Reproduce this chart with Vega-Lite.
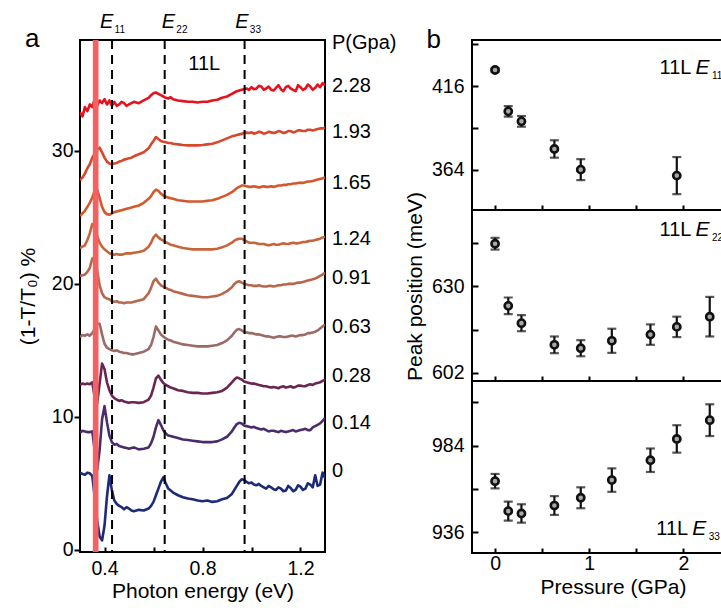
{
  "$schema": "https://vega.github.io/schema/vega-lite/v6.json",
  "autosize": {"type": "pad"},
  "padding": {"left": 16, "top": 10, "right": -32, "bottom": 8},
  "background": "white",
  "bounds": "flush",
  "spacing": 147,
  "config": {
    "font": "Liberation Sans",
    "view": {"stroke": "black", "strokeWidth": 2},
    "axis": {"labelFont": "Liberation Sans", "titleFont": "Liberation Sans", "labelFontSize": 19.5, "titleFontSize": 21, "titleFontWeight": "normal", "labelColor": "black", "titleColor": "black", "tickColor": "black", "tickWidth": 2, "grid": false, "domain": false},
    "text": {"font": "Liberation Sans", "color": "black"}
  },
  "datasets": {
    "spectra": [
      {"e":0.30,"p000":5.8,"p014":8.8,"p028":12.4,"p063":16.0,"p091":20.6,"p124":22.7,"p165":25.1,"p193":27.8,"p228":32.9},
      {"e":0.31,"p000":5.7,"p014":8.95,"p028":12.5,"p063":16.15,"p091":20.65,"p124":22.8,"p165":25.3,"p193":28.0,"p228":32.6},
      {"e":0.32,"p000":5.65,"p014":8.9,"p028":12.45,"p063":16.1,"p091":20.7,"p124":22.9,"p165":25.5,"p193":28.3,"p228":33.3},
      {"e":0.33,"p000":5.8,"p014":8.85,"p028":12.5,"p063":16.2,"p091":20.9,"p124":23.3,"p165":25.8,"p193":28.7,"p228":33.0},
      {"e":0.34,"p000":5.75,"p014":8.85,"p028":12.45,"p063":16.1,"p091":21.2,"p124":23.8,"p165":26.1,"p193":29.0,"p228":33.5},
      {"e":0.35,"p000":5.55,"p014":8.9,"p028":12.6,"p063":16.3,"p091":21.9,"p124":24.5,"p165":26.5,"p193":29.5,"p228":33.3},
      {"e":0.36,"p000":4.0,"p014":7.5,"p028":11.5,"p063":16.6,"p091":22.0,"p124":24.2,"p165":27.0,"p193":29.8,"p228":33.9},
      {"e":0.37,"p000":2.2,"p014":6.0,"p028":11.0,"p063":17.0,"p091":21.0,"p124":23.6,"p165":27.1,"p193":30.1,"p228":33.4},
      {"e":0.38,"p000":1.0,"p014":7.5,"p028":12.5,"p063":17.0,"p091":19.9,"p124":23.1,"p165":26.5,"p193":30.25,"p228":33.8},
      {"e":0.39,"p000":0.7,"p014":9.8,"p028":14.0,"p063":16.2,"p091":19.3,"p124":22.8,"p165":25.8,"p193":29.9,"p228":33.6},
      {"e":0.40,"p000":1.8,"p014":10.8,"p028":13.6,"p063":15.5,"p091":19.0,"p124":22.6,"p165":25.4,"p193":29.5,"p228":33.9},
      {"e":0.41,"p000":4.0,"p014":9.6,"p028":12.6,"p063":15.2,"p091":18.9,"p124":22.45,"p165":25.25,"p193":29.2,"p228":33.5},
      {"e":0.42,"p000":5.6,"p014":8.6,"p028":12.0,"p063":15.1,"p091":18.85,"p124":22.3,"p165":25.2,"p193":29.05,"p228":33.8},
      {"e":0.43,"p000":4.5,"p014":8.1,"p028":11.6,"p063":15.0,"p091":18.7,"p124":22.25,"p165":25.3,"p193":29.0,"p228":33.4},
      {"e":0.44,"p000":3.7,"p014":7.9,"p028":11.4,"p063":14.95,"p091":18.65,"p124":22.2,"p165":25.4,"p193":29.05,"p228":33.7},
      {"e":0.45,"p000":3.45,"p014":7.95,"p028":11.3,"p063":15.0,"p091":18.7,"p124":22.25,"p165":25.45,"p193":29.1,"p228":33.4},
      {"e":0.46,"p000":3.3,"p014":7.8,"p028":11.2,"p063":14.9,"p091":18.6,"p124":22.2,"p165":25.5,"p193":29.2,"p228":33.5},
      {"e":0.47,"p000":3.2,"p014":7.75,"p028":11.25,"p063":14.85,"p091":18.6,"p124":22.2,"p165":25.55,"p193":29.25,"p228":33.7},
      {"e":0.48,"p000":3.05,"p014":7.7,"p028":11.15,"p063":14.8,"p091":18.55,"p124":22.25,"p165":25.6,"p193":29.35,"p228":33.6},
      {"e":0.49,"p000":3.2,"p014":7.65,"p028":11.1,"p063":14.8,"p091":18.6,"p124":22.3,"p165":25.65,"p193":29.4,"p228":33.4},
      {"e":0.50,"p000":3.1,"p014":7.6,"p028":11.05,"p063":14.75,"p091":18.6,"p124":22.3,"p165":25.7,"p193":29.45,"p228":33.5},
      {"e":0.51,"p000":2.95,"p014":7.65,"p028":11.1,"p063":14.7,"p091":18.6,"p124":22.3,"p165":25.75,"p193":29.5,"p228":33.6},
      {"e":0.52,"p000":2.9,"p014":7.7,"p028":11.1,"p063":14.7,"p091":18.65,"p124":22.35,"p165":25.8,"p193":29.6,"p228":33.7},
      {"e":0.54,"p000":3.0,"p014":7.55,"p028":11.05,"p063":14.8,"p091":18.75,"p124":22.4,"p165":25.9,"p193":29.75,"p228":33.6},
      {"e":0.56,"p000":2.95,"p014":7.6,"p028":11.1,"p063":14.9,"p091":18.85,"p124":22.5,"p165":26.1,"p193":29.9,"p228":33.8},
      {"e":0.58,"p000":3.1,"p014":7.7,"p028":11.3,"p063":15.1,"p091":19.3,"p124":22.8,"p165":26.4,"p193":30.2,"p228":34.0},
      {"e":0.59,"p000":3.3,"p014":8.0,"p028":11.6,"p063":15.4,"p091":19.7,"p124":23.1,"p165":26.6,"p193":30.5,"p228":34.2},
      {"e":0.60,"p000":3.6,"p014":8.5,"p028":12.2,"p063":16.0,"p091":20.2,"p124":23.5,"p165":26.9,"p193":30.75,"p228":34.35},
      {"e":0.61,"p000":4.1,"p014":9.2,"p028":12.9,"p063":16.8,"p091":20.4,"p124":23.7,"p165":27.1,"p193":31.05,"p228":34.4},
      {"e":0.62,"p000":4.6,"p014":9.75,"p028":13.1,"p063":16.5,"p091":20.1,"p124":23.5,"p165":27.0,"p193":30.9,"p228":34.3},
      {"e":0.63,"p000":5.1,"p014":9.4,"p028":12.8,"p063":16.2,"p091":19.9,"p124":23.35,"p165":26.8,"p193":30.75,"p228":34.2},
      {"e":0.64,"p000":5.45,"p014":9.0,"p028":12.55,"p063":16.05,"p091":19.8,"p124":23.25,"p165":26.65,"p193":30.7,"p228":34.1},
      {"e":0.65,"p000":5.0,"p014":8.75,"p028":12.4,"p063":15.9,"p091":19.7,"p124":23.15,"p165":26.55,"p193":30.65,"p228":34.0},
      {"e":0.66,"p000":4.6,"p014":8.6,"p028":12.3,"p063":15.8,"p091":19.6,"p124":23.05,"p165":26.5,"p193":30.6,"p228":33.95},
      {"e":0.67,"p000":4.45,"p014":8.55,"p028":12.2,"p063":15.75,"p091":19.55,"p124":22.95,"p165":26.45,"p193":30.6,"p228":34.05},
      {"e":0.68,"p000":4.3,"p014":8.5,"p028":12.15,"p063":15.65,"p091":19.45,"p124":22.9,"p165":26.4,"p193":30.55,"p228":33.9},
      {"e":0.70,"p000":4.1,"p014":8.4,"p028":12.0,"p063":15.55,"p091":19.35,"p124":22.8,"p165":26.3,"p193":30.5,"p228":33.8},
      {"e":0.72,"p000":3.95,"p014":8.3,"p028":11.95,"p063":15.45,"p091":19.25,"p124":22.7,"p165":26.25,"p193":30.45,"p228":33.75},
      {"e":0.74,"p000":3.85,"p014":8.25,"p028":11.85,"p063":15.4,"p091":19.15,"p124":22.65,"p165":26.2,"p193":30.42,"p228":33.7},
      {"e":0.76,"p000":3.8,"p014":8.2,"p028":11.8,"p063":15.35,"p091":19.1,"p124":22.6,"p165":26.2,"p193":30.42,"p228":33.7},
      {"e":0.78,"p000":3.7,"p014":8.15,"p028":11.8,"p063":15.3,"p091":19.05,"p124":22.6,"p165":26.2,"p193":30.42,"p228":33.65},
      {"e":0.80,"p000":3.65,"p014":8.1,"p028":11.75,"p063":15.3,"p091":19.0,"p124":22.6,"p165":26.2,"p193":30.45,"p228":33.7},
      {"e":0.82,"p000":3.7,"p014":8.1,"p028":11.75,"p063":15.3,"p091":19.0,"p124":22.6,"p165":26.25,"p193":30.5,"p228":33.7},
      {"e":0.84,"p000":3.6,"p014":8.1,"p028":11.8,"p063":15.35,"p091":19.05,"p124":22.6,"p165":26.3,"p193":30.55,"p228":33.8},
      {"e":0.86,"p000":3.65,"p014":8.15,"p028":11.85,"p063":15.4,"p091":19.1,"p124":22.65,"p165":26.4,"p193":30.65,"p228":33.85},
      {"e":0.88,"p000":3.8,"p014":8.3,"p028":11.95,"p063":15.55,"p091":19.25,"p124":22.75,"p165":26.55,"p193":30.8,"p228":34.0},
      {"e":0.90,"p000":3.9,"p014":8.5,"p028":12.2,"p063":15.75,"p091":19.45,"p124":22.9,"p165":26.7,"p193":30.95,"p228":34.1},
      {"e":0.92,"p000":4.2,"p014":8.9,"p028":12.6,"p063":16.1,"p091":19.75,"p124":23.1,"p165":26.9,"p193":31.1,"p228":34.3},
      {"e":0.93,"p000":4.5,"p014":9.2,"p028":12.8,"p063":16.35,"p091":20.0,"p124":23.25,"p165":27.05,"p193":31.15,"p228":34.4},
      {"e":0.94,"p000":4.8,"p014":9.45,"p028":12.95,"p063":16.55,"p091":20.15,"p124":23.35,"p165":27.2,"p193":31.2,"p228":34.5},
      {"e":0.95,"p000":5.1,"p014":9.55,"p028":12.9,"p063":16.6,"p091":20.2,"p124":23.4,"p165":27.3,"p193":31.25,"p228":34.55},
      {"e":0.96,"p000":5.3,"p014":9.5,"p028":12.8,"p063":16.5,"p091":20.1,"p124":23.4,"p165":27.4,"p193":31.3,"p228":34.6},
      {"e":0.97,"p000":5.25,"p014":9.35,"p028":12.65,"p063":16.4,"p091":20.0,"p124":23.3,"p165":27.4,"p193":31.35,"p228":34.65},
      {"e":0.98,"p000":5.1,"p014":9.3,"p028":12.6,"p063":16.35,"p091":19.95,"p124":23.2,"p165":27.35,"p193":31.38,"p228":34.7},
      {"e":0.99,"p000":5.0,"p014":9.25,"p028":12.55,"p063":16.3,"p091":19.9,"p124":23.1,"p165":27.3,"p193":31.35,"p228":34.6},
      {"e":1.00,"p000":5.05,"p014":9.2,"p028":12.5,"p063":16.3,"p091":19.9,"p124":23.1,"p165":27.3,"p193":31.4,"p228":34.8},
      {"e":1.01,"p000":4.9,"p014":9.25,"p028":12.5,"p063":16.25,"p091":19.85,"p124":23.1,"p165":27.35,"p193":31.3,"p228":34.65},
      {"e":1.02,"p000":4.85,"p014":9.15,"p028":12.45,"p063":16.2,"p091":19.85,"p124":23.05,"p165":27.3,"p193":31.35,"p228":34.7},
      {"e":1.03,"p000":4.95,"p014":9.1,"p028":12.4,"p063":16.2,"p091":19.9,"p124":23.0,"p165":27.25,"p193":31.45,"p228":34.9},
      {"e":1.04,"p000":4.8,"p014":9.05,"p028":12.35,"p063":16.15,"p091":19.85,"p124":23.0,"p165":27.3,"p193":31.4,"p228":34.85},
      {"e":1.05,"p000":4.7,"p014":9.1,"p028":12.3,"p063":16.1,"p091":19.8,"p124":23.0,"p165":27.35,"p193":31.3,"p228":34.6},
      {"e":1.06,"p000":4.6,"p014":9.0,"p028":12.3,"p063":16.05,"p091":19.8,"p124":22.95,"p165":27.3,"p193":31.35,"p228":34.7},
      {"e":1.07,"p000":4.8,"p014":8.9,"p028":12.25,"p063":16.05,"p091":19.85,"p124":22.9,"p165":27.3,"p193":31.45,"p228":34.85},
      {"e":1.08,"p000":4.7,"p014":8.95,"p028":12.2,"p063":16.0,"p091":19.85,"p124":22.95,"p165":27.35,"p193":31.4,"p228":34.6},
      {"e":1.09,"p000":4.55,"p014":8.95,"p028":12.25,"p063":15.95,"p091":19.8,"p124":23.0,"p165":27.3,"p193":31.35,"p228":34.55},
      {"e":1.10,"p000":4.5,"p014":8.9,"p028":12.2,"p063":16.0,"p091":19.85,"p124":22.95,"p165":27.35,"p193":31.4,"p228":34.75},
      {"e":1.11,"p000":4.7,"p014":8.85,"p028":12.15,"p063":16.05,"p091":19.9,"p124":22.95,"p165":27.4,"p193":31.5,"p228":34.95},
      {"e":1.12,"p000":4.6,"p014":8.95,"p028":12.25,"p063":16.05,"p091":19.9,"p124":23.0,"p165":27.4,"p193":31.45,"p228":34.65},
      {"e":1.13,"p000":4.4,"p014":8.9,"p028":12.3,"p063":16.0,"p091":19.95,"p124":23.05,"p165":27.45,"p193":31.35,"p228":34.5},
      {"e":1.14,"p000":4.45,"p014":8.85,"p028":12.2,"p063":16.0,"p091":19.95,"p124":23.0,"p165":27.45,"p193":31.4,"p228":34.8},
      {"e":1.15,"p000":4.8,"p014":8.9,"p028":12.25,"p063":16.05,"p091":20.0,"p124":23.0,"p165":27.5,"p193":31.5,"p228":34.9},
      {"e":1.16,"p000":4.65,"p014":8.95,"p028":12.3,"p063":16.1,"p091":20.0,"p124":23.05,"p165":27.5,"p193":31.5,"p228":34.7},
      {"e":1.17,"p000":4.4,"p014":9.0,"p028":12.2,"p063":16.1,"p091":20.0,"p124":23.1,"p165":27.55,"p193":31.4,"p228":34.6},
      {"e":1.18,"p000":4.5,"p014":8.9,"p028":12.25,"p063":16.05,"p091":20.05,"p124":23.05,"p165":27.55,"p193":31.45,"p228":34.5},
      {"e":1.19,"p000":4.85,"p014":8.95,"p028":12.35,"p063":16.1,"p091":20.1,"p124":23.05,"p165":27.6,"p193":31.55,"p228":34.95},
      {"e":1.20,"p000":4.75,"p014":9.0,"p028":12.35,"p063":16.15,"p091":20.1,"p124":23.1,"p165":27.6,"p193":31.55,"p228":34.8},
      {"e":1.21,"p000":4.5,"p014":9.05,"p028":12.3,"p063":16.15,"p091":20.15,"p124":23.15,"p165":27.6,"p193":31.5,"p228":34.6},
      {"e":1.22,"p000":4.6,"p014":9.1,"p028":12.3,"p063":16.2,"p091":20.2,"p124":23.15,"p165":27.65,"p193":31.5,"p228":34.7},
      {"e":1.23,"p000":5.0,"p014":9.0,"p028":12.4,"p063":16.3,"p091":20.25,"p124":23.2,"p165":27.7,"p193":31.6,"p228":35.0},
      {"e":1.24,"p000":4.9,"p014":9.0,"p028":12.45,"p063":16.3,"p091":20.3,"p124":23.25,"p165":27.7,"p193":31.6,"p228":34.85},
      {"e":1.25,"p000":4.7,"p014":9.2,"p028":12.4,"p063":16.35,"p091":20.35,"p124":23.25,"p165":27.75,"p193":31.55,"p228":34.6},
      {"e":1.26,"p000":5.6,"p014":9.3,"p028":12.5,"p063":16.4,"p091":20.4,"p124":23.3,"p165":27.8,"p193":31.6,"p228":34.75},
      {"e":1.27,"p000":4.8,"p014":9.4,"p028":12.55,"p063":16.5,"p091":20.5,"p124":23.35,"p165":27.85,"p193":31.65,"p228":35.0},
      {"e":1.28,"p000":4.9,"p014":9.5,"p028":12.6,"p063":16.65,"p091":20.6,"p124":23.4,"p165":27.9,"p193":31.7,"p228":34.8},
      {"e":1.29,"p000":5.8,"p014":9.7,"p028":12.7,"p063":16.8,"p091":20.7,"p124":23.5,"p165":27.95,"p193":31.7,"p228":35.1},
      {"e":1.30,"p000":5.4,"p014":9.9,"p028":12.8,"p063":16.95,"p091":20.85,"p124":23.55,"p165":28.0,"p193":31.75,"p228":34.95}
    ],
    "peaks": [
      {"band":"E11","P":0,"val":425.9,"err":1.0},
      {"band":"E11","P":0.14,"val":400.3,"err":3.3},
      {"band":"E11","P":0.28,"val":394.1,"err":3.3},
      {"band":"E11","P":0.63,"val":377.0,"err":5.4},
      {"band":"E11","P":0.91,"val":364.2,"err":6.5},
      {"band":"E11","P":1.93,"val":360.5,"err":11.5},
      {"band":"E22","P":0,"val":643.8,"err":1.9},
      {"band":"E22","P":0.14,"val":623.7,"err":2.7},
      {"band":"E22","P":0.28,"val":618.1,"err":2.6},
      {"band":"E22","P":0.63,"val":611.1,"err":2.7},
      {"band":"E22","P":0.91,"val":610.0,"err":2.6},
      {"band":"E22","P":1.24,"val":612.4,"err":3.9},
      {"band":"E22","P":1.65,"val":614.4,"err":3.3},
      {"band":"E22","P":1.93,"val":616.9,"err":3.3},
      {"band":"E22","P":2.28,"val":620.2,"err":6.4},
      {"band":"E33","P":0,"val":964.3,"err":4.0},
      {"band":"E33","P":0.14,"val":947.7,"err":5.3},
      {"band":"E33","P":0.28,"val":946.4,"err":5.1},
      {"band":"E33","P":0.63,"val":950.8,"err":5.2},
      {"band":"E33","P":0.91,"val":955.1,"err":5.8},
      {"band":"E33","P":1.24,"val":964.9,"err":6.5},
      {"band":"E33","P":1.65,"val":975.9,"err":6.5},
      {"band":"E33","P":1.93,"val":987.7,"err":7.6},
      {"band":"E33","P":2.28,"val":998.1,"err":8.8}
    ]
  },
  "hconcat": [
    {
      "width": 245,
      "height": 512,
      "layer": [
        {
          "data": {"name": "spectra"},
          "transform": [{"fold": ["p000","p014","p028","p063","p091","p124","p165","p193","p228"], "as": ["key","v"]}],
          "mark": {"type": "line", "strokeWidth": 2.6, "strokeJoin": "round", "clip": true},
          "encoding": {
            "x": {"field": "e", "type": "quantitative", "scale": {"domain": [0.3, 1.3], "nice": false, "zero": false},
              "axis": {"values": [0.4, 0.6, 0.8, 1.0, 1.2], "labelExpr": "abs(datum.value-0.4)<0.01 || abs(datum.value-0.8)<0.01 || abs(datum.value-1.2)<0.01 ? format(datum.value, '.1f') : ''", "tickSize": -5, "labelPadding": 12.5, "title": "Photon energy (eV)", "titlePadding": 2}},
            "y": {"field": "v", "type": "quantitative", "scale": {"domain": [-0.17, 38.35], "nice": false, "zero": false},
              "axis": {"values": [0, 10, 20, 30], "tickSize": 6, "labelPadding": 1, "title": "(1-T/T₀) %", "titlePadding": 13}},
            "color": {"field": "key", "type": "nominal", "legend": null,
              "scale": {"domain": ["p000","p014","p028","p063","p091","p124","p165","p193","p228"], "range": ["#1c2a78","#4a2c6c","#6b2553","#9c6a66","#b8674b","#c8643a","#d4582b","#d8472a","#e8121e"]}},
            "detail": {"field": "key"}
          }
        },
        {
          "data": {"values": [{"x": 0.364}]},
          "mark": {"type": "rule", "color": "#f36262", "strokeWidth": 5.7},
          "encoding": {"x": {"field": "x", "type": "quantitative"}}
        },
        {
          "data": {"values": [{"x": 0.4308}, {"x": 0.6457}, {"x": 0.9718}]},
          "mark": {"type": "rule", "color": "black", "strokeWidth": 2, "strokeDash": [9, 6]},
          "encoding": {"x": {"field": "x", "type": "quantitative"}}
        },
        {
          "data": {"values": [{"x": 0.382, "y": 39.28, "s": "11"}, {"x": 0.634, "y": 39.28, "s": "22"}, {"x": 0.934, "y": 39.28, "s": "33"}]},
          "layer": [
            {"mark": {"type": "text", "text": "E", "fontStyle": "italic", "fontSize": 20, "align": "left", "baseline": "alphabetic"},
              "encoding": {"x": {"field": "x", "type": "quantitative"}, "y": {"field": "y", "type": "quantitative"}}},
            {"mark": {"type": "text", "fontSize": 10, "align": "left", "baseline": "alphabetic", "dx": 14.5, "dy": 5},
              "encoding": {"x": {"field": "x", "type": "quantitative"}, "y": {"field": "y", "type": "quantitative"}, "text": {"field": "s"}}}
          ]
        },
        {
          "data": {"values": [{"t":"P(Gpa)","x":1.3,"y":38.1},{"t":"2.28","x":1.3,"y":34.9},{"t":"1.93","x":1.3,"y":31.4},{"t":"1.65","x":1.3,"y":27.6},{"t":"1.24","x":1.3,"y":23.35},{"t":"0.91","x":1.3,"y":20.46},{"t":"0.63","x":1.3,"y":16.78},{"t":"0.28","x":1.3,"y":13.09},{"t":"0.14","x":1.3,"y":9.5},{"t":"0","x":1.3,"y":5.92}]},
          "mark": {"type": "text", "fontSize": 20, "align": "left", "baseline": "middle", "dx": 7},
          "encoding": {"x": {"field": "x", "type": "quantitative"}, "y": {"field": "y", "type": "quantitative"}, "text": {"field": "t"}}
        },
        {
          "data": {"values": [{"t": "11L", "x": 0.807, "y": 36.57}]},
          "mark": {"type": "text", "fontSize": 20, "align": "center", "baseline": "middle"},
          "encoding": {"x": {"field": "x", "type": "quantitative"}, "y": {"field": "y", "type": "quantitative"}, "text": {"field": "t"}}
        },
        {
          "data": {"values": [{"t": "a", "x": 0.105, "y": 38.45}]},
          "mark": {"type": "text", "fontSize": 26, "align": "center", "baseline": "middle"},
          "encoding": {"x": {"field": "x", "type": "quantitative"}, "y": {"field": "y", "type": "quantitative"}, "text": {"field": "t"}}
        }
      ]
    },
    {
      "bounds": "flush",
      "spacing": 0,
      "vconcat": [
        {
          "width": 282,
          "height": 170,
          "layer": [
            {
              "data": {"name": "peaks"},
              "transform": [{"filter": "datum.band == 'E11'"}],
              "layer": [
                {"mark": {"type": "errorbar", "ticks": {"size": 9}, "thickness": 2.2, "color": "#111"},
                  "encoding": {"x": {"field": "P", "type": "quantitative"}, "y": {"field": "val", "type": "quantitative", "title": null}, "yError": {"field": "err"}}},
                {"mark": {"type": "point", "filled": true, "fill": "#a8a8a8", "stroke": "#111", "strokeWidth": 2.6, "size": 52, "opacity": 1},
                  "encoding": {
                    "x": {"field": "P", "type": "quantitative", "scale": {"domain": [-0.245, 2.75], "nice": false, "zero": false}, "axis": {"values": [0, 0.5, 1, 1.5, 2], "labels": false, "tickSize": -5, "title": null}},
                    "y": {"field": "val", "type": "quantitative", "scale": {"domain": [339.2, 444.5], "nice": false, "zero": false}, "axis": {"values": [338, 364, 390, 416, 442], "labelExpr": "datum.value == 364 || datum.value == 416 ? datum.label : ''", "tickSize": -6, "labelPadding": 14, "title": null}}
                  }}
              ]
            },
            {
              "data": {"values": [{"x": 2.128, "y": 423.6, "s": "11"}]},
              "layer": [
                {"mark": {"type": "text", "text": "11L", "fontSize": 20, "align": "right", "baseline": "alphabetic", "dx": -4},
                  "encoding": {"x": {"field": "x", "type": "quantitative"}, "y": {"field": "y", "type": "quantitative"}}},
                {"mark": {"type": "text", "text": "E", "fontStyle": "italic", "fontSize": 21, "align": "left", "baseline": "alphabetic"},
                  "encoding": {"x": {"field": "x", "type": "quantitative"}, "y": {"field": "y", "type": "quantitative"}}},
                {"mark": {"type": "text", "fontSize": 10, "align": "left", "baseline": "alphabetic", "dx": 16.5, "dy": 5},
                  "encoding": {"x": {"field": "x", "type": "quantitative"}, "y": {"field": "y", "type": "quantitative"}, "text": {"field": "s"}}}
              ]
            },
            {
              "data": {"values": [{"t": "b", "x": -0.652, "y": 444.5}]},
              "mark": {"type": "text", "fontSize": 26, "align": "center", "baseline": "middle"},
              "encoding": {"x": {"field": "x", "type": "quantitative"}, "y": {"field": "y", "type": "quantitative"}, "text": {"field": "t"}}
            }
          ]
        },
        {
          "width": 282,
          "height": 171,
          "layer": [
            {
              "data": {"name": "peaks"},
              "transform": [{"filter": "datum.band == 'E22'"}],
              "layer": [
                {"mark": {"type": "errorbar", "ticks": {"size": 9}, "thickness": 2.2, "color": "#111"},
                  "encoding": {"x": {"field": "P", "type": "quantitative"}, "y": {"field": "val", "type": "quantitative", "title": "Peak position (meV)"}, "yError": {"field": "err"}}},
                {"mark": {"type": "point", "filled": true, "fill": "#a8a8a8", "stroke": "#111", "strokeWidth": 2.6, "size": 52, "opacity": 1},
                  "encoding": {
                    "x": {"field": "P", "type": "quantitative", "scale": {"domain": [-0.245, 2.75], "nice": false, "zero": false}, "axis": {"values": [0, 0.5, 1, 1.5, 2], "labels": false, "tickSize": -5, "title": null}},
                    "y": {"field": "val", "type": "quantitative", "title": "Peak position (meV)", "scale": {"domain": [599.4, 654.7], "nice": false, "zero": false}, "axis": {"values": [602, 616, 630, 644], "labelExpr": "datum.value == 602 || datum.value == 630 ? datum.label : ''", "tickSize": -6, "labelPadding": 14, "title": "Peak position (meV)", "titlePadding": 6, "titleY": 76}}
                  }}
              ]
            },
            {
              "data": {"values": [{"x": 2.128, "y": 646.2, "s": "22"}]},
              "layer": [
                {"mark": {"type": "text", "text": "11L", "fontSize": 20, "align": "right", "baseline": "alphabetic", "dx": -4},
                  "encoding": {"x": {"field": "x", "type": "quantitative"}, "y": {"field": "y", "type": "quantitative"}}},
                {"mark": {"type": "text", "text": "E", "fontStyle": "italic", "fontSize": 21, "align": "left", "baseline": "alphabetic"},
                  "encoding": {"x": {"field": "x", "type": "quantitative"}, "y": {"field": "y", "type": "quantitative"}}},
                {"mark": {"type": "text", "fontSize": 10, "align": "left", "baseline": "alphabetic", "dx": 16.5, "dy": 5},
                  "encoding": {"x": {"field": "x", "type": "quantitative"}, "y": {"field": "y", "type": "quantitative"}, "text": {"field": "s"}}}
              ]
            }
          ]
        },
        {
          "width": 282,
          "height": 172,
          "layer": [
            {
              "data": {"name": "peaks"},
              "transform": [{"filter": "datum.band == 'E33'"}],
              "layer": [
                {"mark": {"type": "errorbar", "ticks": {"size": 9}, "thickness": 2.2, "color": "#111"},
                  "encoding": {"x": {"field": "P", "type": "quantitative"}, "y": {"field": "val", "type": "quantitative", "title": null}, "yError": {"field": "err"}}},
                {"mark": {"type": "point", "filled": true, "fill": "#a8a8a8", "stroke": "#111", "strokeWidth": 2.6, "size": 52, "opacity": 1},
                  "encoding": {
                    "x": {"field": "P", "type": "quantitative", "scale": {"domain": [-0.245, 2.75], "nice": false, "zero": false}, "axis": {"values": [0, 0.5, 1, 1.5, 2], "labelExpr": "datum.value % 1 == 0 ? format(datum.value, 'd') : ''", "tickSize": -5, "labelPadding": 6, "title": "Pressure (GPa)", "titlePadding": 3.5}},
                    "y": {"field": "val", "type": "quantitative", "scale": {"domain": [924.5, 1019.8], "nice": false, "zero": false}, "axis": {"values": [936, 960, 984, 1008], "labelExpr": "datum.value == 936 || datum.value == 984 ? datum.label : ''", "tickSize": -6, "labelPadding": 14, "title": null}}
                  }}
              ]
            },
            {
              "data": {"values": [{"x": 2.093, "y": 934.7, "s": "33"}]},
              "layer": [
                {"mark": {"type": "text", "text": "11L", "fontSize": 20, "align": "right", "baseline": "alphabetic", "dx": -4},
                  "encoding": {"x": {"field": "x", "type": "quantitative"}, "y": {"field": "y", "type": "quantitative"}}},
                {"mark": {"type": "text", "text": "E", "fontStyle": "italic", "fontSize": 21, "align": "left", "baseline": "alphabetic"},
                  "encoding": {"x": {"field": "x", "type": "quantitative"}, "y": {"field": "y", "type": "quantitative"}}},
                {"mark": {"type": "text", "fontSize": 10, "align": "left", "baseline": "alphabetic", "dx": 16.5, "dy": 5},
                  "encoding": {"x": {"field": "x", "type": "quantitative"}, "y": {"field": "y", "type": "quantitative"}, "text": {"field": "s"}}}
              ]
            }
          ]
        }
      ]
    }
  ]
}
